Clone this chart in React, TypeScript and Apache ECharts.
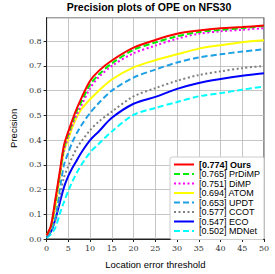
import React, { useEffect, useRef } from "react";
import * as echarts from "echarts";

const thresholds = [0, 1, 2, 3, 4, 5, 6, 7, 8, 10, 12, 15, 20, 25, 30, 35, 40, 45, 50];

const seriesNames = [
  "[0.774] Ours",
  "[0.765] PrDiMP",
  "[0.751] DiMP",
  "[0.694] ATOM",
  "[0.653] UPDT",
  "[0.577] CCOT",
  "[0.547] ECO",
  "[0.502] MDNet",
];

const oursValues = [0.015, 0.055, 0.16, 0.27, 0.38, 0.435, 0.485, 0.53, 0.57, 0.64, 0.68, 0.722, 0.774, 0.805, 0.83, 0.843, 0.852, 0.857, 0.863];
const prdimpValues = [0.015, 0.05, 0.15, 0.26, 0.37, 0.425, 0.475, 0.52, 0.555, 0.625, 0.665, 0.71, 0.765, 0.795, 0.82, 0.837, 0.846, 0.853, 0.861];
const dimpValues = [0.015, 0.05, 0.145, 0.255, 0.36, 0.415, 0.465, 0.505, 0.54, 0.61, 0.655, 0.7, 0.751, 0.782, 0.81, 0.83, 0.84, 0.846, 0.853];
const atomValues = [0.015, 0.05, 0.13, 0.25, 0.355, 0.405, 0.455, 0.495, 0.525, 0.565, 0.6, 0.645, 0.694, 0.723, 0.747, 0.77, 0.784, 0.796, 0.804];
const updtValues = [0.01, 0.03, 0.09, 0.2, 0.3, 0.35, 0.395, 0.43, 0.46, 0.51, 0.55, 0.6, 0.653, 0.685, 0.714, 0.734, 0.747, 0.758, 0.767];
const ccotValues = [0.01, 0.03, 0.075, 0.17, 0.25, 0.295, 0.335, 0.37, 0.395, 0.44, 0.475, 0.515, 0.577, 0.61, 0.64, 0.663, 0.678, 0.691, 0.7];
const ecoValues = [0.01, 0.03, 0.08, 0.145, 0.21, 0.255, 0.29, 0.32, 0.35, 0.4, 0.435, 0.49, 0.547, 0.575, 0.607, 0.631, 0.647, 0.66, 0.67];
const mdnetValues = [0.005, 0.02, 0.045, 0.1, 0.15, 0.195, 0.235, 0.27, 0.3, 0.35, 0.385, 0.435, 0.502, 0.53, 0.554, 0.577, 0.59, 0.604, 0.617];

const allValues = [oursValues, prdimpValues, dimpValues, atomValues, updtValues, ccotValues, ecoValues, mdnetValues];
const colors = ["#ff0000", "#00ee00", "#ff00ff", "#ffff00", "#1ea0e6", "#808080", "#0000ff", "#00ffff"];
const dashes: any[] = ["solid", [6, 3], [2, 2.5], "solid", [6, 3], [2, 2.5], "solid", [6, 3]];

const xTicks = [0, 5, 10, 15, 20, 25, 30, 35, 40, 45, 50];

export default function App() {
  const ref = useRef<HTMLDivElement>(null);
  useEffect(() => {
    if (!ref.current) return;
    const chart = echarts.init(ref.current, null, { renderer: "svg" });
    chart.setOption({
      animation: false,
      backgroundColor: "#ffffff",
      title: {
        text: "Precision plots of OPE on NFS30",
        left: 149,
        textAlign: "center",
        top: 1,
        padding: 0,
        textStyle: { fontFamily: "Liberation Sans", fontWeight: "bold", fontSize: 10.5, color: "#000" },
      },
      grid: {
        left: 34.3,
        right: 11,
        top: 17.7,
        bottom: 31.7,
        show: true,
        borderColor: "#222",
        borderWidth: 1,
      },
      xAxis: {
        type: "value",
        min: 0,
        max: 50,
        interval: 5,
        name: "Location error threshold",
        nameLocation: "middle",
        nameGap: 20,
        nameTextStyle: { fontFamily: "Liberation Sans", fontSize: 9.5, color: "#000" },
        axisLine: { show: true, lineStyle: { color: "#222", width: 1 } },
        axisTick: { show: true, length: 3, lineStyle: { color: "#222" } },
        axisLabel: {
          fontFamily: "DejaVu Serif",
          fontSize: 8,
          color: "#333",
          margin: 5,
          formatter: (v: number) => (xTicks.includes(v) ? String(v) : ""),
        },
        splitLine: { show: true, lineStyle: { color: "#b8b8b8", width: 0.8 } },
      },
      yAxis: {
        type: "value",
        min: 0,
        max: 0.895,
        interval: 0.1,
        name: "Precision",
        nameLocation: "middle",
        nameGap: 25,
        nameTextStyle: { fontFamily: "Liberation Sans", fontSize: 9.5, color: "#000" },
        axisLine: { show: true, lineStyle: { color: "#222", width: 1 } },
        axisTick: { show: true, length: 3, lineStyle: { color: "#222" } },
        axisLabel: {
          fontFamily: "DejaVu Serif",
          fontSize: 8,
          color: "#333",
          margin: 5,
          showMaxLabel: false,
          formatter: (v: number) => v.toFixed(1),
        },
        splitLine: { show: true, lineStyle: { color: "#b8b8b8", width: 0.8 } },
      },
      legend: {
        orient: "vertical",
        left: 170,
        top: 157,
        padding: [3, 4, 4, 3],
        itemWidth: 20,
        itemHeight: 9,
        itemGap: 0.5,
        backgroundColor: "#ffffff",
        borderColor: "#cccccc",
        borderWidth: 1,
        borderRadius: 2,
        itemStyle: { opacity: 0 },
        data: seriesNames,
        formatter: (name: string) => (name === seriesNames[0] ? "{b|" + name + "}" : name),
        textStyle: {
          fontFamily: "Liberation Sans",
          fontSize: 9,
          lineHeight: 9,
          color: "#000",
          rich: { b: { fontFamily: "Liberation Sans", fontSize: 9, lineHeight: 9, fontWeight: "bold", color: "#000" } },
        },
      },
      series: seriesNames.map((name, i) => ({
        name,
        type: "line",
        data: thresholds.map((t, j) => [t, allValues[i][j]]),
        symbol: "none",
        smooth: 0.3,
        color: colors[i],
        lineStyle: { color: colors[i], width: 2, type: dashes[i] },
        z: 2 + (seriesNames.length - i),
      })),
    });
    return () => chart.dispose();
  }, []);
  return <div ref={ref} style={{ position: "fixed", left: 0, top: 0, width: 275, height: 274 }} />;
}
